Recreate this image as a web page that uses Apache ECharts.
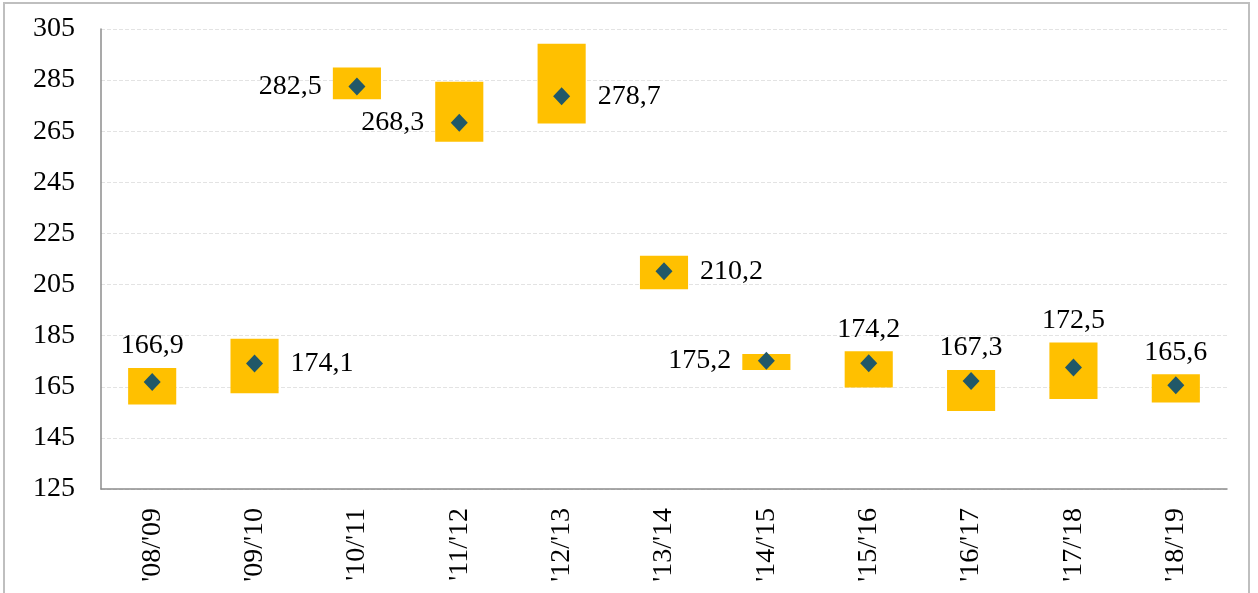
<!DOCTYPE html>
<html>
<head>
<meta charset="utf-8">
<script src="https://cdn.jsdelivr.net/npm/echarts@6/dist/echarts.min.js"></script>
<style>
  html, body { margin: 0; padding: 0; background: #fff; }
  #chart { width: 1258px; height: 593px; }
</style>
</head>
<body>
<div id="chart"></div>
<script>
// seasons
const categories = ["'08/'09", "'09/'10", "'10/'11", "'11/'12", "'12/'13", "'13/'14",
  "'14/'15", "'15/'16", "'16/'17", "'17/'18", "'18/'19"];
// point value (diamond)
const values = [166.9, 174.1, 282.5, 268.3, 278.7, 210.2, 175.2, 174.2, 167.3, 172.5, 165.6];
// box range
const lows = [158.1, 162.5, 277.5, 260.9, 268.0, 203.2, 171.6, 164.7, 155.5, 160.2, 158.8];
const highs = [172.3, 183.8, 289.9, 284.4, 299.2, 216.3, 177.8, 178.9, 171.6, 182.3, 169.9];
// y axis ticks
const yMin = 125, yMax = 305, yStep = 20;
// where each value label sits
const labelSide = ['top', 'right', 'left', 'left', 'right', 'right', 'left', 'top', 'top', 'top', 'top'];

const FONT = '"Liberation Serif", "Times New Roman", serif';
const fmt = (v) => v.toFixed(1).replace('.', ',');

const boxData = categories.map((c, i) => [i, lows[i], highs[i], values[i]]);

function renderBox(params, api) {
  const i = api.value(0);
  const top = api.coord([i, api.value(2)]);
  const bot = api.coord([i, api.value(1)]);
  const mid = api.coord([i, api.value(3)]);
  const w = api.size([1, 0])[0] * 0.47;
  const side = labelSide[params.dataIndex];
  let tx = mid[0], ty = mid[1], align = 'center', valign = 'middle';
  if (side === 'top') { ty = top[1] - 8; valign = 'bottom'; }
  else if (side === 'right') { tx = mid[0] + w / 2 + 12; align = 'left'; }
  else { tx = mid[0] - w / 2 - 11; align = 'right'; }
  return {
    type: 'group',
    children: [
      {
        type: 'rect',
        shape: { x: top[0] - w / 2, y: top[1], width: w, height: bot[1] - top[1] },
        style: { fill: '#FFC000' }
      },
      {
        type: 'text',
        style: {
          text: fmt(api.value(3)), x: tx, y: ty, align: align, verticalAlign: valign,
          fontFamily: FONT, fontSize: 28, fill: '#000'
        }
      }
    ]
  };
}

const chart = echarts.init(document.getElementById('chart'));
chart.setOption({
  animation: false,
  graphic: [{
    type: 'rect', silent: true,
    shape: { x: 4, y: 3, width: 1245, height: 640 },
    style: { fill: 'none', stroke: '#bfbfbf', lineWidth: 2 }
  }],
  grid: { left: 101, right: 31, top: 29, bottom: 104 },
  xAxis: {
    type: 'category',
    data: categories,
    axisLine: { lineStyle: { color: '#8c8c8c', width: 1.5 } },
    axisTick: { show: false },
    axisLabel: { rotate: 90, margin: 19, color: '#000', fontFamily: FONT, fontSize: 28 }
  },
  yAxis: {
    type: 'value',
    min: yMin, max: yMax, interval: yStep,
    axisLine: { show: true, lineStyle: { color: '#8c8c8c', width: 1.5 } },
    axisTick: { show: false },
    axisLabel: { margin: 26, color: '#000', fontFamily: FONT, fontSize: 28 },
    splitLine: { lineStyle: { color: '#e3e3e3', type: [4, 2] } }
  },
  series: [
    {
      type: 'custom',
      renderItem: renderBox,
      data: boxData,
      encode: { x: 0, y: [1, 2] },
      z: 2
    },
    {
      type: 'scatter',
      data: values,
      symbol: 'diamond',
      symbolSize: [17, 18],
      itemStyle: { color: '#215868', opacity: 1 },
      z: 3
    }
  ]
});
</script>
</body>
</html>
